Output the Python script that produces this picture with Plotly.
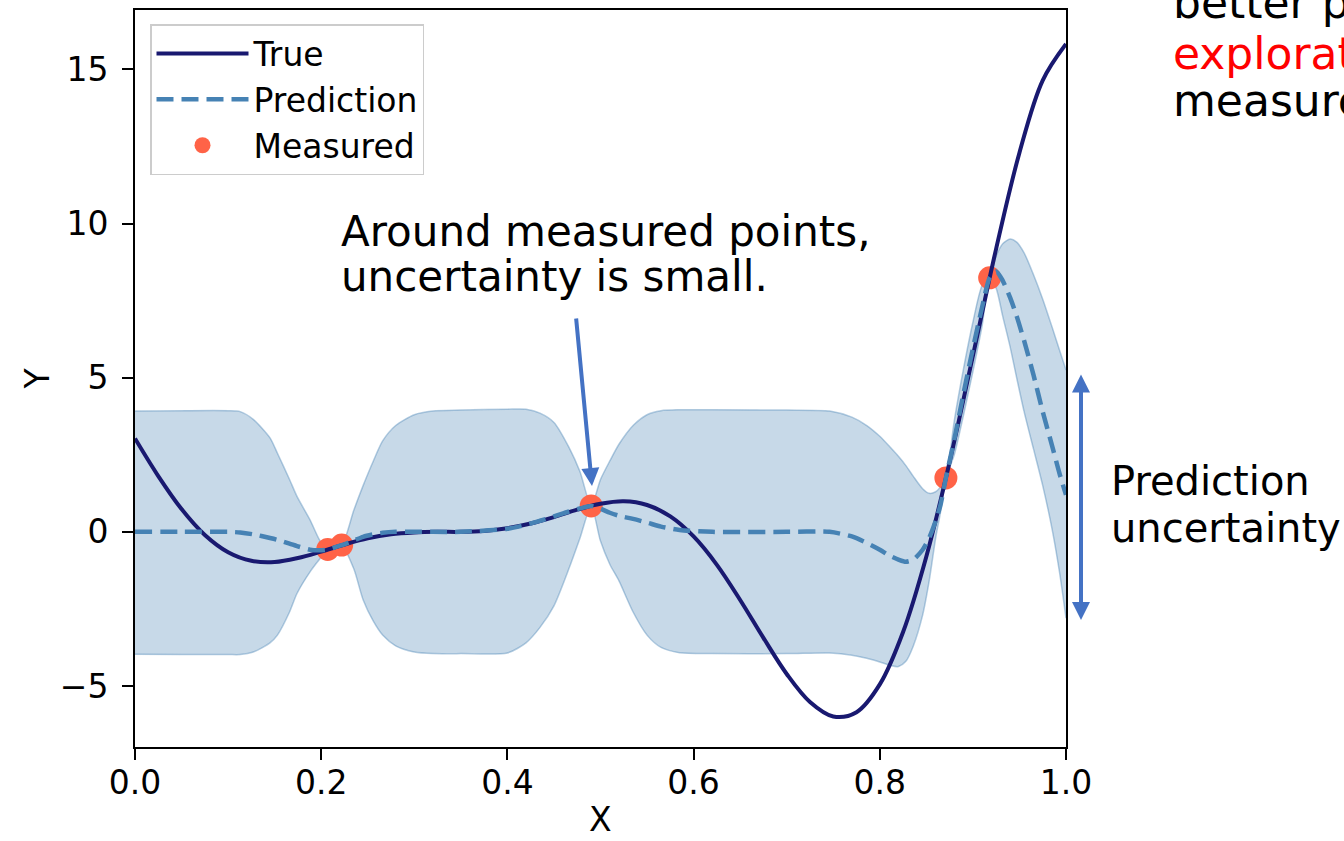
import plotly.graph_objects as go

# ---------------- data ----------------
x_true = [0.0, 0.025, 0.05, 0.075, 0.1, 0.125, 0.15, 0.175, 0.2, 0.225,
          0.25, 0.275, 0.3, 0.325, 0.35, 0.375, 0.4, 0.425, 0.45, 0.475,
          0.5, 0.525, 0.55, 0.575, 0.6, 0.625, 0.65, 0.675, 0.7, 0.725,
          0.75, 0.775, 0.8, 0.825, 0.85, 0.875, 0.9, 0.925, 0.95, 0.975, 1.0]
y_true = [3.03, 1.81, 0.74, -0.10, -0.66, -0.94, -0.98, -0.85, -0.64, -0.41,
          -0.21, -0.08, -0.02, 0.00, 0.00, 0.03, 0.12, 0.27, 0.48, 0.72,
          0.91, 0.99, 0.87, 0.50, -0.15, -1.07, -2.21, -3.44, -4.61, -5.52,
          -5.99, -5.85, -4.95, -3.25, -0.80, 2.27, 5.71, 9.19, 12.30, 14.65, 15.83]

x_pred = [0.0, 0.05, 0.1, 0.113, 0.127, 0.145, 0.153, 0.166, 0.174, 0.188,
          0.198, 0.207, 0.215, 0.222, 0.235, 0.245, 0.256, 0.266, 0.28, 0.3,
          0.32, 0.35, 0.4, 0.42, 0.435, 0.45, 0.466, 0.478, 0.49, 0.5,
          0.51, 0.52, 0.535, 0.55, 0.565, 0.585, 0.62, 0.7, 0.746, 0.77,
          0.786, 0.8, 0.811, 0.82, 0.828, 0.836, 0.846, 0.853, 0.86, 0.865,
          0.871, 0.88, 0.89, 0.9, 0.91, 0.918, 0.925, 0.932, 0.94, 0.947,
          0.955, 0.965, 0.975, 0.985, 0.993, 1.0]
y_pred = [0.0, 0.0, 0.0, -0.02, -0.08, -0.2, -0.26, -0.38, -0.46, -0.58,
          -0.6, -0.574, -0.5, -0.434, -0.28, -0.16, -0.08, -0.03, 0.0, 0.0,
          0.0, 0.0, 0.1, 0.23, 0.36, 0.5, 0.66, 0.76, 0.84, 0.75,
          0.62, 0.52, 0.42, 0.3, 0.17, 0.06, 0.0, 0.0, 0.0, -0.15,
          -0.36, -0.58, -0.78, -0.9, -0.97, -0.9, -0.58, -0.2, 0.35, 0.85,
          1.75, 3.0, 4.5, 5.95, 7.3, 8.24, 8.45, 8.15, 7.6, 7.0,
          6.2, 5.1, 3.9, 2.8, 1.9, 1.2]
y_upper = [3.92, 3.93, 3.93, 3.9, 3.65, 3.05, 2.55, 1.7, 1.15, 0.39,
           -0.25, -0.574, -0.36, -0.434, 0.7, 1.5, 2.3, 2.95, 3.45, 3.8,
           3.92, 3.95, 3.98, 3.98, 3.85, 3.55, 2.75, 1.95, 0.84, 1.7,
           2.3, 2.85, 3.45, 3.8, 3.93, 3.96, 3.96, 3.95, 3.92, 3.72,
           3.45, 3.1, 2.75, 2.45, 2.15, 1.8, 1.4, 1.25, 1.3, 1.45,
           1.75, 3.6, 5.3, 6.8, 8.0, 8.24, 8.95, 9.35, 9.5, 9.4,
           9.05, 8.35, 7.55, 6.65, 5.9, 5.25]
y_lower = [-3.97, -3.98, -3.98, -3.98, -3.9, -3.6, -3.35, -2.6, -2.0, -1.3,
           -0.9, -0.574, -0.64, -0.434, -1.2, -2.2, -2.9, -3.35, -3.7, -3.9,
           -3.95, -3.95, -3.93, -3.6, -3.1, -2.4, -1.2, -0.2, 0.84, -0.3,
           -1.05, -1.6, -2.6, -3.35, -3.75, -3.92, -3.95, -3.95, -3.93, -4.0,
           -4.1, -4.22, -4.33, -4.37, -4.2, -3.7, -2.7, -1.6, -0.2, 0.6,
           1.75, 2.5, 3.8, 5.2, 6.7, 8.24, 7.9, 7.0, 6.0, 5.0,
           3.9, 2.7, 1.5, 0.1, -1.3, -2.8]

x_meas = [0.207, 0.222, 0.49, 0.871, 0.918]
y_meas = [-0.57, -0.43, 0.84, 1.75, 8.24]

x_ticks = [0.0, 0.2, 0.4, 0.6, 0.8, 1.0]
y_ticks = [-5, 0, 5, 10, 15]
x_range = [0.0, 1.0]
y_range = [-6.98, 16.93]

# ---------------- layout geometry ----------------
W, H = 1344, 841
L, R, T, B = 135, 278, 10, 94
PW, PH = W - L - R, H - T - B


def px_x(px):
    return (px - L) / PW


def px_y(py):
    return (H - B - py) / PH


FONT = "DejaVu Sans"
BAND = "rgba(70,130,180,0.30)"
BAND_EDGE = "rgba(70,130,180,0.40)"
ARROW = "#4472C4"
TICK_SIZE = 33

fig = go.Figure()

fig.add_trace(go.Scatter(x=x_pred, y=y_upper, mode="lines",
                         line=dict(color=BAND_EDGE, width=1.5, shape="spline", smoothing=0.7),
                         showlegend=False, hoverinfo="skip"))
fig.add_trace(go.Scatter(x=x_pred, y=y_lower, mode="lines", fill="tonexty", fillcolor=BAND,
                         line=dict(color=BAND_EDGE, width=1.5, shape="spline", smoothing=0.7),
                         showlegend=False, hoverinfo="skip"))
fig.add_trace(go.Scatter(x=x_meas, y=y_meas, mode="markers", name="Measured", legendrank=3,
                         marker=dict(color="tomato", size=23, line=dict(width=0))))
fig.add_trace(go.Scatter(x=x_true, y=y_true, mode="lines", name="True", legendrank=1,
                         line=dict(color="#191970", width=4, shape="spline", smoothing=1.0)))
fig.add_trace(go.Scatter(x=x_pred, y=y_pred, mode="lines", name="Prediction", legendrank=2,
                         line=dict(color="steelblue", width=4.5, dash="17px,8px",
                                   shape="spline", smoothing=0.7)))

axis_common = dict(showline=True, mirror=True, linecolor="black", linewidth=2,
                   ticks="outside", ticklen=11, tickwidth=2, tickcolor="black",
                   showgrid=False, zeroline=False, automargin=False,
                   tickfont=dict(family=FONT, size=TICK_SIZE, color="black"))

fig.update_xaxes(range=x_range, tickvals=x_ticks, tickformat=".1f",
                 ticklabelstandoff=-6, **axis_common)
fig.update_yaxes(range=y_range, tickvals=y_ticks, ticklabelstandoff=7,
                 title=dict(text="Y", font=dict(family=FONT, size=TICK_SIZE, color="black"), standoff=0),
                 **axis_common)

annots = []
# x-axis title (annotation so it can sit as low as in the reference, inside the page)
annots.append(dict(xref="paper", yref="paper", x=0.5, y=px_y(840), xanchor="center",
                   yanchor="bottom", text="X", showarrow=False, borderpad=0,
                   font=dict(family=FONT, size=TICK_SIZE, color="black")))
TXT = dict(family=FONT, size=42, color="black")
annots.append(dict(xref="paper", yref="paper", x=px_x(339), y=px_y(232), xanchor="left",
                   yanchor="middle", text="Around measured points,", showarrow=False, font=TXT))
annots.append(dict(xref="paper", yref="paper", x=px_x(339), y=px_y(276), xanchor="left",
                   yanchor="middle", text="uncertainty is small.", showarrow=False, font=TXT))
TXT2 = dict(family=FONT, size=40, color="black")
annots.append(dict(xref="paper", yref="paper", x=px_x(1109), y=px_y(481), xanchor="left",
                   yanchor="middle", text="Prediction", showarrow=False, font=TXT2))
annots.append(dict(xref="paper", yref="paper", x=px_x(1109), y=px_y(528), xanchor="left",
                   yanchor="middle", text="uncertainty", showarrow=False, font=TXT2))
TXT3 = dict(family=FONT, size=44, color="black")
annots.append(dict(xref="paper", yref="paper", x=px_x(1171), y=px_y(2), xanchor="left",
                   yanchor="middle", text="better prediction", showarrow=False, font=TXT3))
annots.append(dict(xref="paper", yref="paper", x=px_x(1171), y=px_y(54), xanchor="left",
                   yanchor="middle", text="exploration", showarrow=False,
                   font=dict(family=FONT, size=44, color="red")))
annots.append(dict(xref="paper", yref="paper", x=px_x(1171), y=px_y(100), xanchor="left",
                   yanchor="middle", text="measurement", showarrow=False, font=TXT3))
# arrow pointing at the measured point
annots.append(dict(xref="paper", yref="paper", x=px_x(592), y=px_y(486), ax=576 - 592, ay=317 - 486,
                   text="", showarrow=True, arrowhead=2, arrowsize=0.9, arrowwidth=4,
                   arrowcolor=ARROW, standoff=0))
# double arrow for uncertainty
annots.append(dict(xref="paper", yref="paper", x=px_x(1081), y=px_y(620), ax=0, ay=373 - 620,
                   text="", showarrow=True, arrowhead=2, startarrowhead=2, arrowside="end+start",
                   arrowsize=0.9, startarrowsize=0.9, arrowwidth=4, arrowcolor=ARROW,
                   standoff=0, startstandoff=0))

fig.update_layout(
    width=W, height=H,
    margin=dict(l=L, r=R, t=T, b=B, autoexpand=False),
    paper_bgcolor="white", plot_bgcolor="white",
    font=dict(family=FONT, size=TICK_SIZE, color="black"),
    legend=dict(x=px_x(150), y=px_y(24), xanchor="left", yanchor="top",
                bgcolor="rgba(255,255,255,0.85)", bordercolor="#cccccc", borderwidth=1.5,
                font=dict(family=FONT, size=TICK_SIZE, color="black"), itemwidth=92,
                traceorder="normal"),
    annotations=annots,
    showlegend=True,
)

fig.write_html("out.html")
